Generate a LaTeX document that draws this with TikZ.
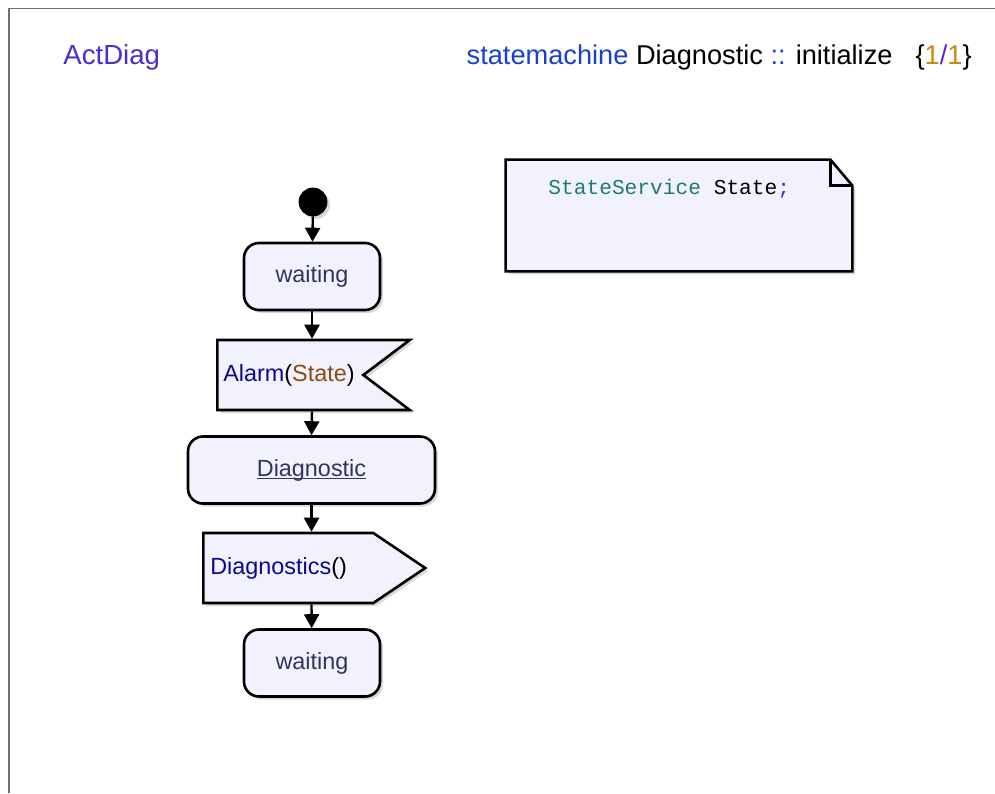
\documentclass[tikz,border=0pt]{standalone}
\usepackage{fontspec}
\setmainfont{Liberation Sans}
\setmonofont{Liberation Mono}
\usepackage{xcolor}
\usetikzlibrary{arrows.meta,shapes.symbols,shadows}

\definecolor{statefill}{HTML}{F2F2FF}
\definecolor{statetext}{HTML}{33335F}
\definecolor{signame}{HTML}{0A0A8A}
\definecolor{sigparam}{HTML}{8B4A12}
\definecolor{codetype}{HTML}{1E7A74}
\definecolor{codepunct}{HTML}{4A2BDB}
\definecolor{diagname}{HTML}{4A2ED0}
\definecolor{keyword}{HTML}{1A3FD0}
\definecolor{pagenum}{HTML}{C88A10}
\definecolor{framegray}{HTML}{707070}
\newcommand{\diagul}[1]{\setbox0\hbox{#1}\rlap{\rule[-1.6pt]{\wd0}{0.6pt}}\box0}

\begin{document}
\begin{tikzpicture}[x=0.5pt, y=-0.5pt, every node/.style={font=\fontsize{11.7}{14}\selectfont},
  softshadow/.style={drop shadow={shadow xshift=1.5pt, shadow yshift=-1.5pt, opacity=0.3}},
  statebox/.style={draw, line width=1.3pt, rounded corners=7.5pt, fill=statefill, softshadow, minimum height=33.5pt, text=statetext},
  sig/.style={draw, line width=1.3pt, signal, fill=statefill, softshadow, minimum height=35pt, align=left, anchor=west},
  flow/.style={line width=1.2pt, -{Triangle[length=7pt,width=7.5pt]}}]
\useasboundingbox (0,0) rectangle (995,793);
\draw[framegray, line width=0.8pt] (9,793) -- (9,8.5) -- (995,8.5);
% header
\node[font=\fontsize{13.8}{16}\selectfont, text=diagname, anchor=base west, inner sep=0] (kind) at (63,64) {ActDiag};
\node[font=\fontsize{13.6}{16}\selectfont, anchor=base east, inner sep=0] (title) at (972,64) {\textcolor{keyword}{statemachine} Diagnostic \textcolor{keyword}{::} initialize\hspace{0.85em}\{\textcolor{pagenum}{1}\textcolor{codepunct}{/}\textcolor{pagenum}{1}\}};
% flow
\node[circle, draw, fill=black, minimum size=14pt, inner sep=0, softshadow] (start) at (313,202) {};
\node[statebox, minimum width=68pt] (waiting1) at (312,276.5) {waiting};
\node[sig, signal to=nowhere, signal from=east, signal pointer angle=74, inner xsep=3pt, text width=67pt] (alarm) at (216,375) {\textcolor{signame}{Alarm}(\textcolor{sigparam}{State})};
\node[statebox, minimum width=123.5pt] (diag) at (311.5,470) {\diagul{Diagnostic}};
\node[sig, signal to=east, signal pointer angle=68, inner xsep=3.5pt, text width=78pt] (send) at (202,568) {\textcolor{signame}{Diagnostics}()};
\node[statebox, minimum width=68pt] (waiting2) at (312,663) {waiting};
\draw[flow] (start) -- (waiting1);
\draw[flow] (waiting1) -- (waiting1.south |- alarm.north);
\draw[flow] (waiting1.south |- alarm.south) -- (diag.north);
\draw[flow] (diag) -- (diag.south |- send.north);
\draw[flow] (diag.south |- send.south) -- (waiting2);
% note
\node[minimum width=173pt, minimum height=55.5pt, inner sep=0] (note) at (679,215.5) {};
\draw[line width=1.3pt, fill=statefill, softshadow] (note.south west) -- (note.north west) -- ([xshift=-11pt]note.north east) -- ([yshift=-13pt]note.north east) -- (note.south east) -- cycle;
\draw[line width=1.3pt] ([xshift=-11pt]note.north east) -- ([xshift=-11pt,yshift=-13pt]note.north east) -- ([yshift=-13pt]note.north east);
\node[font=\ttfamily\fontsize{10.6}{13}\selectfont, anchor=base west, inner sep=0] (notedecl) at (548,194) {\textcolor{codetype}{StateService} State\textcolor{codepunct}{;}};
\end{tikzpicture}
\end{document}
